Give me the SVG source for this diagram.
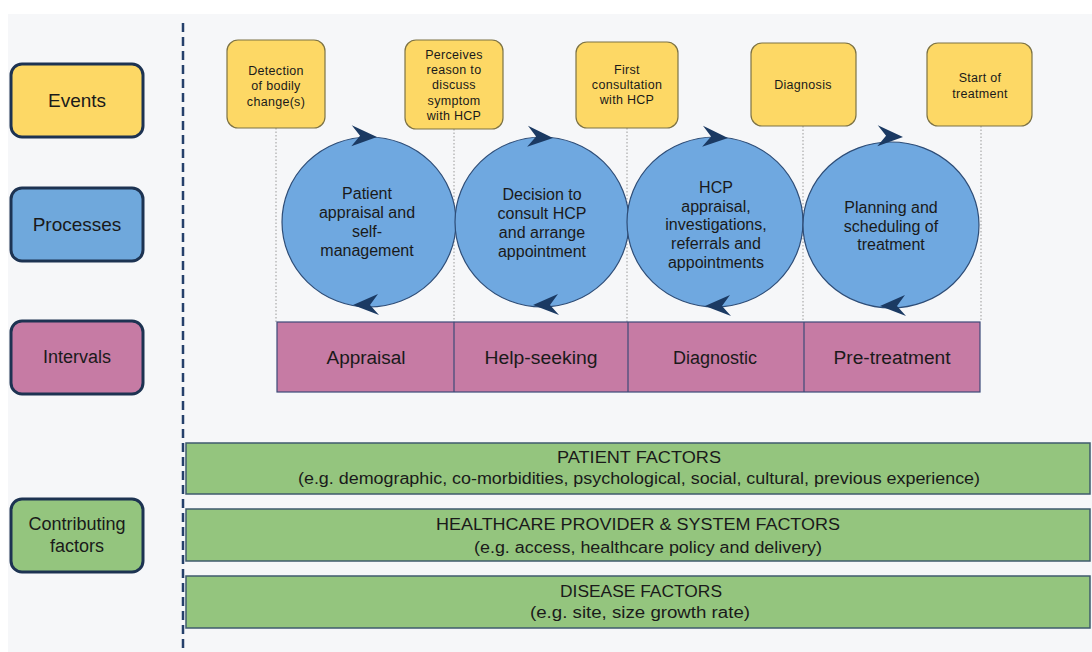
<svg xmlns="http://www.w3.org/2000/svg" width="1092" height="652" viewBox="0 0 1092 652">
  <defs>
    <style>
      .lbl { font-family: "Liberation Sans", Arial, sans-serif; fill: #1a1a1a; text-anchor: middle; }
      .side { stroke: #1d3352; stroke-width: 3; }
      .event { fill: #fdd865; stroke: #7d7345; stroke-width: 1.2; }
      .circle { fill: #6fa8e0; stroke: #2e4d77; stroke-width: 1.2; }
      .guide { stroke: #9a9a9a; stroke-width: 1; stroke-dasharray: 1.5 2; }
      .bar { fill: #94c57e; stroke: #3f5b6d; stroke-width: 1.5; }
      .t12 { font-size: 12.5px; letter-spacing: 0.3px; }
      .t16 { font-size: 16px; }
      .t18 { font-size: 18px; }
      .t19 { font-size: 19px; }
    </style>
    <path id="head" d="M0,0 L-26,-10 L-17,0 L-25,11 Z" fill="#1b3a63"/>
  </defs>

  <!-- page background -->
  <rect x="0" y="0" width="1092" height="652" fill="#ffffff"/>
  <rect x="8" y="14" width="1084" height="638" fill="#f6f7f9"/>

  <!-- divider between legend and timeline -->
  <line x1="183" y1="23" x2="183" y2="652" stroke="#25406b" stroke-width="2.5" stroke-dasharray="9 5"/>

  <!-- legend column -->
  <g id="legend-events">
    <rect class="side" x="11" y="64" width="132" height="73" rx="11" fill="#fdd865"/>
    <text class="lbl t19" x="77" y="107">Events</text>
  </g>
  <g id="legend-processes">
    <rect class="side" x="11" y="188" width="132" height="73" rx="11" fill="#6fa8dc"/>
    <text class="lbl t19" x="77" y="231">Processes</text>
  </g>
  <g id="legend-intervals">
    <rect class="side" x="11" y="321" width="132" height="73" rx="11" fill="#c67ba4"/>
    <text class="lbl t18" x="77" y="363">Intervals</text>
  </g>
  <g id="legend-factors">
    <rect class="side" x="11" y="499" width="132" height="73" rx="11" fill="#94c57e"/>
    <text class="lbl t18" x="77" y="530">Contributing</text>
    <text class="lbl t18" x="77" y="552">factors</text>
  </g>

  <!-- milestone guide lines -->
  <g id="connectors">
    <line class="guide" x1="276" y1="128" x2="276" y2="322"/>
    <line class="guide" x1="454" y1="129" x2="454" y2="322"/>
    <line class="guide" x1="627" y1="128" x2="627" y2="322"/>
    <line class="guide" x1="803" y1="126" x2="803" y2="322"/>
    <line class="guide" x1="981" y1="126" x2="981" y2="322"/>
  </g>

  <!-- events -->
  <g id="event-detection">
    <rect class="event" x="227" y="40" width="98" height="88" rx="11"/>
    <text class="lbl t12" x="276" y="75">Detection</text>
    <text class="lbl t12" x="276" y="90">of bodily</text>
    <text class="lbl t12" x="276" y="106">change(s)</text>
  </g>
  <g id="event-perceives">
    <rect class="event" x="405" y="40" width="98" height="89" rx="11"/>
    <text class="lbl t12" x="454" y="59">Perceives</text>
    <text class="lbl t12" x="454" y="74">reason to</text>
    <text class="lbl t12" x="454" y="89">discuss</text>
    <text class="lbl t12" x="454" y="105">symptom</text>
    <text class="lbl t12" x="454" y="120">with HCP</text>
  </g>
  <g id="event-consultation">
    <rect class="event" x="576" y="42" width="102" height="86" rx="11"/>
    <text class="lbl t12" x="627" y="74">First</text>
    <text class="lbl t12" x="627" y="89">consultation</text>
    <text class="lbl t12" x="627" y="104">with HCP</text>
  </g>
  <g id="event-diagnosis">
    <rect class="event" x="751" y="43" width="105" height="83" rx="11"/>
    <text class="lbl t12" x="803" y="89">Diagnosis</text>
  </g>
  <g id="event-treatment">
    <rect class="event" x="927" y="43" width="105" height="83" rx="11"/>
    <text class="lbl t12" x="980" y="82">Start of</text>
    <text class="lbl t12" x="980" y="98">treatment</text>
  </g>

  <!-- processes -->
  <g id="process-appraisal">
    <ellipse class="circle" cx="369" cy="222" rx="87" ry="85"/>
    <use href="#head" transform="translate(377,137) rotate(4)"/>
    <use href="#head" transform="translate(353,305) rotate(180)"/>
    <text class="lbl t16" x="367" y="199">Patient</text>
    <text class="lbl t16" x="367" y="218">appraisal and</text>
    <text class="lbl t16" x="367" y="237">self-</text>
    <text class="lbl t16" x="367" y="256">management</text>
  </g>
  <g id="process-decision">
    <ellipse class="circle" cx="542" cy="222" rx="87" ry="85"/>
    <use href="#head" transform="translate(553,138) rotate(5)"/>
    <use href="#head" transform="translate(533,305) rotate(180)"/>
    <text class="lbl t16" x="542" y="200">Decision to</text>
    <text class="lbl t16" x="542" y="219">consult HCP</text>
    <text class="lbl t16" x="542" y="238">and arrange</text>
    <text class="lbl t16" x="542" y="257">appointment</text>
  </g>
  <g id="process-hcp">
    <ellipse class="circle" cx="715" cy="222" rx="88" ry="85"/>
    <use href="#head" transform="translate(728,138) rotate(5)"/>
    <use href="#head" transform="translate(705,306) rotate(180)"/>
    <text class="lbl t16" x="716" y="193">HCP</text>
    <text class="lbl t16" x="716" y="212">appraisal,</text>
    <text class="lbl t16" x="716" y="230">investigations,</text>
    <text class="lbl t16" x="716" y="249">referrals and</text>
    <text class="lbl t16" x="716" y="268">appointments</text>
  </g>
  <g id="process-planning">
    <ellipse class="circle" cx="891" cy="225" rx="88" ry="83"/>
    <use href="#head" transform="translate(903,137) rotate(4)"/>
    <use href="#head" transform="translate(880,306) rotate(180)"/>
    <text class="lbl t16" x="891" y="213">Planning and</text>
    <text class="lbl t16" x="891" y="232">scheduling of</text>
    <text class="lbl t16" x="891" y="250">treatment</text>
  </g>

  <!-- intervals -->
  <g id="intervals">
    <rect x="277" y="322" width="703" height="70" fill="#c67ba4" stroke="#3d4a78" stroke-width="1.2"/>
    <line x1="454" y1="322" x2="454" y2="392" stroke="#3d4a78" stroke-width="1.2"/>
    <line x1="628" y1="322" x2="628" y2="392" stroke="#3d4a78" stroke-width="1.2"/>
    <line x1="804" y1="322" x2="804" y2="392" stroke="#3d4a78" stroke-width="1.2"/>
    <text class="lbl t18" x="366" y="364" textLength="79" lengthAdjust="spacingAndGlyphs">Appraisal</text>
    <text class="lbl t18" x="541" y="364" textLength="113" lengthAdjust="spacingAndGlyphs">Help-seeking</text>
    <text class="lbl t18" x="715" y="364" textLength="84" lengthAdjust="spacingAndGlyphs">Diagnostic</text>
    <text class="lbl t18" x="892" y="364" textLength="117" lengthAdjust="spacingAndGlyphs">Pre-treatment</text>
  </g>

  <!-- contributing factors -->
  <g id="factors-patient">
    <rect class="bar" x="186" y="443" width="904" height="51"/>
    <text class="lbl t16" x="639" y="463" textLength="164" lengthAdjust="spacingAndGlyphs">PATIENT FACTORS</text>
    <text class="lbl t16" x="639" y="484" textLength="682" lengthAdjust="spacingAndGlyphs">(e.g. demographic, co-morbidities, psychological, social, cultural, previous experience)</text>
  </g>
  <g id="factors-healthcare">
    <rect class="bar" x="186" y="509" width="904" height="52"/>
    <text class="lbl t16" x="638" y="530" textLength="404" lengthAdjust="spacingAndGlyphs">HEALTHCARE PROVIDER &amp; SYSTEM FACTORS</text>
    <text class="lbl t16" x="648" y="553" textLength="348" lengthAdjust="spacingAndGlyphs">(e.g. access, healthcare policy and delivery)</text>
  </g>
  <g id="factors-disease">
    <rect class="bar" x="186" y="576" width="904" height="52"/>
    <text class="lbl t16" x="641" y="597" textLength="162" lengthAdjust="spacingAndGlyphs">DISEASE FACTORS</text>
    <text class="lbl t16" x="640" y="618" textLength="220" lengthAdjust="spacingAndGlyphs">(e.g. site, size growth rate)</text>
  </g>
</svg>
